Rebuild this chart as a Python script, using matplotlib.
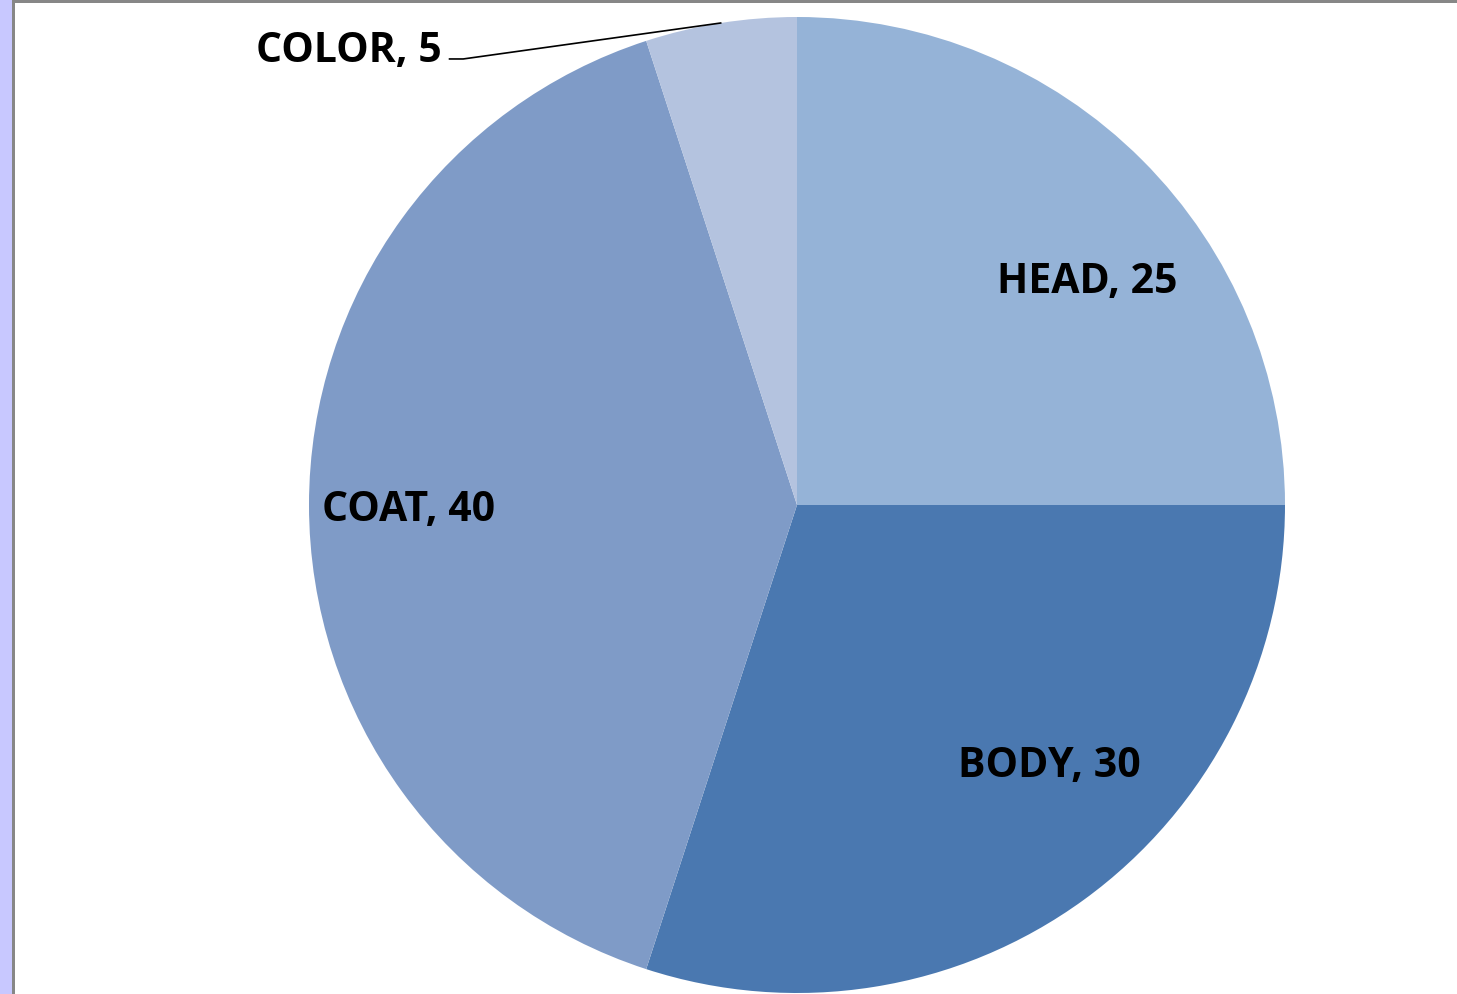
import numpy as np
import matplotlib.pyplot as plt
from matplotlib.patches import Rectangle

# data
parts = ["HEAD", "BODY", "COAT", "COLOR"]
values = [25, 30, 40, 5]
colors = ["#95B3D7", "#4A78B0", "#7F9BC7", "#B4C3DF"]

# label centres (in pie radius units), COLOR gets a leader line
label_pos = {"HEAD": (0.594, 0.455), "BODY": (0.518, -0.535), "COAT": (-0.797, -0.011)}

plt.rcParams['font.family'] = ['Open Sans', 'DejaVu Sans']

W, H = 1457, 994
fig = plt.figure(figsize=(W / 100, H / 100), dpi=100)
fig.patch.set_facecolor("white")

# frame: lavender strip on the left, grey border left and top
fig.add_artist(Rectangle((0, 0), 12 / W, 1, transform=fig.transFigure, color="#C8C8FF", lw=0))
fig.add_artist(Rectangle((12 / W, 0), 3 / W, 1, transform=fig.transFigure, color="#878787", lw=0))
fig.add_artist(Rectangle((12 / W, 1 - 3 / H), 1, 3 / H, transform=fig.transFigure, color="#878787", lw=0))

cx, cy, r = 797, 505, 488
ax = fig.add_axes([(cx - r) / W, (H - cy - r) / H, 2 * r / W, 2 * r / H])
wedges, _ = ax.pie(values, colors=colors, startangle=90, counterclock=False,
                   radius=1, wedgeprops=dict(linewidth=0))
ax.set_xlim(-1, 1)
ax.set_ylim(-1, 1)
ax.set_aspect("equal")
ax.axis("off")

fs = 29.5
for name, val, w in zip(parts, values, wedges):
    txt = f"{name}, {val}"
    if name in label_pos:
        x, y = label_pos[name]
        ax.text(x, y, txt, ha="center", va="center", fontsize=fs, fontweight="bold", color="black")
    else:
        mid = np.deg2rad((w.theta1 + w.theta2) / 2)
        ex, ey = np.cos(mid), np.sin(mid)
        ax.text(-0.727, 0.929, txt, ha="right", va="center", fontsize=fs, fontweight="bold",
                color="black", clip_on=False)
        ax.plot([-0.712, -0.684, ex], [0.914, 0.914, ey], color="black", lw=1.2, clip_on=False)

fig.savefig("out.png", dpi=100)
